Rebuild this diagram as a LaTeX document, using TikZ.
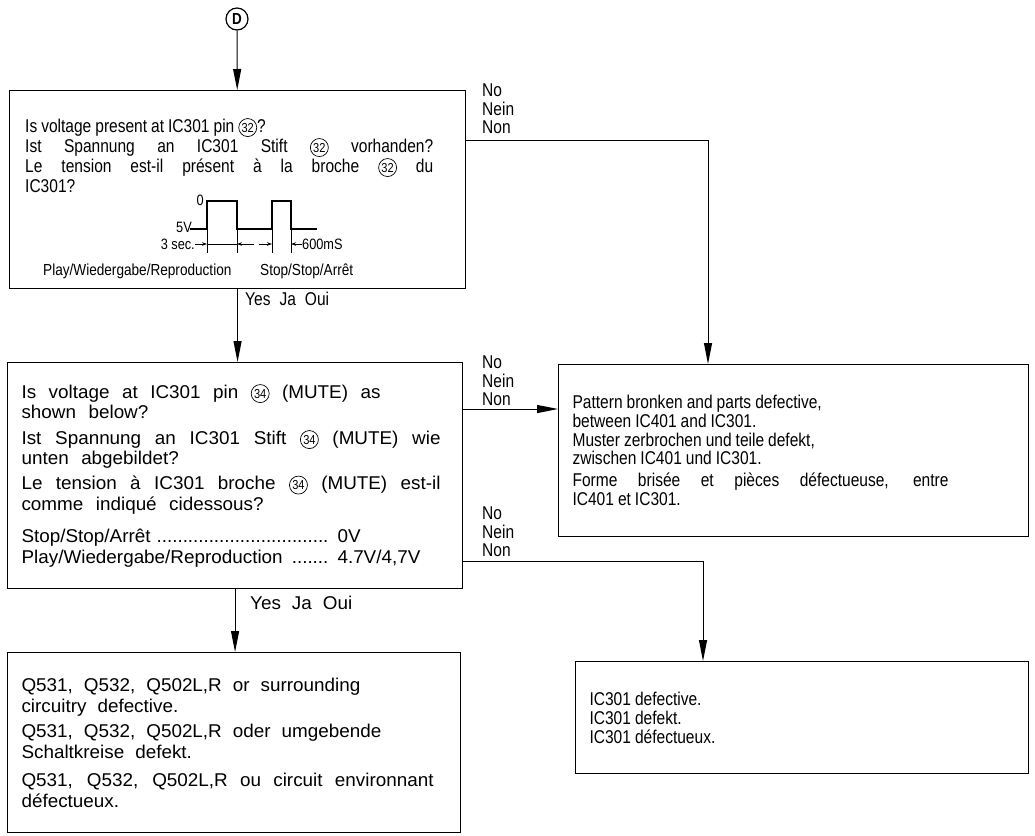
\documentclass[tikz,border=0pt]{standalone}
\usepackage{fontspec}
\setmainfont{Liberation Sans}[FakeStretch=0.84]
\newfontfamily\widefont{Liberation Sans}[FakeStretch=1.02]
\newfontfamily\narrowfont{Liberation Sans}[FakeStretch=0.85]
\usetikzlibrary{arrows.meta,positioning}

\newcommand{\bodysize}[1][20.5]{\fontsize{18.5}{#1}\selectfont}
\newcommand{\wsp}[1]{\spaceskip=#1\relax}
\newcommand{\pinno}[1]{\tikz[baseline=(pn.base)]\node[draw,circle,line width=0.7pt,
  inner sep=0pt,minimum size=18pt,font=\narrowfont\fontsize{13}{13}\selectfont] (pn) {#1};}
\newcommand{\fullline}[2][\hsize]{\makebox[#1][s]{\spaceskip=.3em plus 1fil\relax#2}}
\newcommand{\dotlead}{\leaders\hbox to 5.2pt{\hss.\hss}\hfill}

\tikzset{
  frame/.style={draw, line width=1.1pt, anchor=north west, inner sep=0pt},
  box/.style={frame, inner xsep=14pt, align=left, font=\bodysize},
  flow/.style={line width=1pt, -{Triangle[length=21pt,width=8pt]}},
  answer/.style={anchor=north west, inner sep=0pt, align=left,
    font=\fontsize{18.5}{18.5}\selectfont},
  wave/.style={line width=1.6pt},
  dim/.style={line width=0.7pt},
  dimarrow/.style={line width=0.7pt, -{Stealth[length=5pt,width=3.5pt]}},
  small/.style={inner sep=0pt, font=\narrowfont\fontsize{15}{15}\selectfont},
  legend/.style={inner sep=0pt, font=\narrowfont\fontsize{16}{16}\selectfont}
}

\begin{document}
\begin{tikzpicture}[x=1pt,y=-1pt]
  \useasboundingbox (0,0) rectangle (1035,835);

  % start
  \node[circle, draw, line width=1.2pt, minimum size=22pt, inner sep=0pt,
    font=\fontsize{16}{16}\selectfont\bfseries] (d) at (237,19) {D};

  % first check
  \node[frame, minimum width=456pt, minimum height=198pt] (q1) at (9,90) {};
  \node[anchor=north west, inner sep=0pt, text width=408pt, align=left,
    font={\bodysize[20]}] (q1txt) at (25,118) {\wsp{4pt}%
    Is voltage present at IC301 pin \pinno{32}?\\
    \fullline{Ist Spannung an IC301 Stift \pinno{32} vorhanden?}\\
    \fullline{Le tension est-il présent à la broche \pinno{32} du}\\
    IC301?};

  % waveform
  \draw[wave] (190,229) -- (207,229) -- (207,201) -- (237,201) -- (237,229)
    -- (272,229) -- (272,201) -- (291,201) -- (291,229) -- (317,229);
  \foreach \tx in {207,237,272,291}
    \draw[dim] (\tx,222) -- (\tx,253);
  \node[small, anchor=east] (lvlhigh) at (204,200) {0};
  \node[small, anchor=base east] (lvllow) at (192,232) {5V};
  \node[small, anchor=east] (tplay) at (195,244) {3 sec.};
  \node[small, anchor=west] (tstop) at (302,244) {600mS};
  \draw[dimarrow] (tplay.east) -- (207,244);
  \draw[dim] (207,244) -- (237,244);
  \draw[dimarrow] (254,244) -- (237,244);
  \draw[dimarrow] (259,244) -- (272,244);
  \draw[dimarrow] (tstop.west) -- (291,244);
  \node[legend, anchor=west] (mplay) at (43,271) {Play/Wiedergabe/Reproduction};
  \node[legend, anchor=west] (mstop) at (260,271) {Stop/Stop/Arrêt};

  % second check
  \node[box, text width=427pt, minimum height=226pt, font={\widefont\bodysize}]
    (q2) at (7,362) {\wsp{12.5pt}%
    Is voltage at IC301 pin \pinno{34} (MUTE) as\\
    shown below?\\[5pt]
    \fullline[419pt]{Ist Spannung an IC301 Stift \pinno{34} (MUTE) wie}\\
    unten abgebildet?\\[4.5pt]
    \fullline[419pt]{Le tension à IC301 broche \pinno{34} (MUTE) est-il}\\
    comme indiqué cidessous?\\[12pt]
    \makebox[316pt][s]{Stop/Stop/Arrêt\hspace{6pt}\dotlead\hspace{6pt}}0V\\
    \makebox[316pt][s]{Play/Wiedergabe/Reproduction\hspace{6pt}\dotlead\hspace{6pt}}4.7V/4,7V};

  % results
  \node[box, text width=442pt, minimum height=172pt, font={\bodysize[18.5]}]
    (q3) at (558,364) {\wsp{4pt}%
    Pattern bronken and parts defective,\\
    between IC401 and IC301.\\[0.5pt]
    Muster zerbrochen und teile defekt,\\
    zwischen IC401 und IC301.\\[3.5pt]
    \fullline[376pt]{Forme brisée et pièces défectueuse, entre}\\
    IC401 et IC301.};
  \node[box, text width=425pt, minimum height=180pt, font={\widefont\bodysize[21]}]
    (q4) at (7,652) {\wsp{11pt}%
    Q531, Q532, Q502L,R or surrounding\\
    circuitry defective.\\[4pt]
    Q531, Q532, Q502L,R oder umgebende\\
    Schaltkreise defekt.\\[7pt]
    \fullline[412pt]{Q531, Q532, Q502L,R ou circuit environnant}\\
    défectueux.};
  \node[box, text width=425pt, minimum height=112pt, font={\bodysize[19]}]
    (q5) at (575,661) {\wsp{4pt}%
    IC301 defective.\\
    IC301 defekt.\\
    IC301 défectueux.};

  % connectors
  \coordinate (j1) at (708,140);
  \coordinate (j2) at (510,409);
  \coordinate (j3) at (703,561);
  \draw[flow] (d) -- (q1);
  \draw[flow] (q1.south) -- (q1.south |- q2.north);
  \draw[flow] (q2.south) -- (q2.south |- q4.north);
  \draw[flow] (q1.east |- j1) -- (j1) -- (j1 |- q3.north);
  \draw[flow] (q2.east |- j2) -- (q3.west |- j2);
  \draw[flow] (q2.east |- j3) -- (j3) -- (j3 |- q5.north);

  % answers
  \node[anchor=west, inner sep=0pt, font=\bodysize] (yes1) at (245,299)
    {Yes\hspace{9pt}Ja\hspace{9pt}Oui};
  \node[anchor=west, inner sep=0pt, font={\widefont\bodysize}] (yes2) at (250,603)
    {Yes\hspace{11pt}Ja\hspace{11pt}Oui};
  \node[answer] (no1) at (482,84) {No\\Nein\\Non};
  \node[answer] (no2) at (482,356) {No\\Nein\\Non};
  \node[answer] (no3) at (482,507) {No\\Nein\\Non};
\end{tikzpicture}
\end{document}
